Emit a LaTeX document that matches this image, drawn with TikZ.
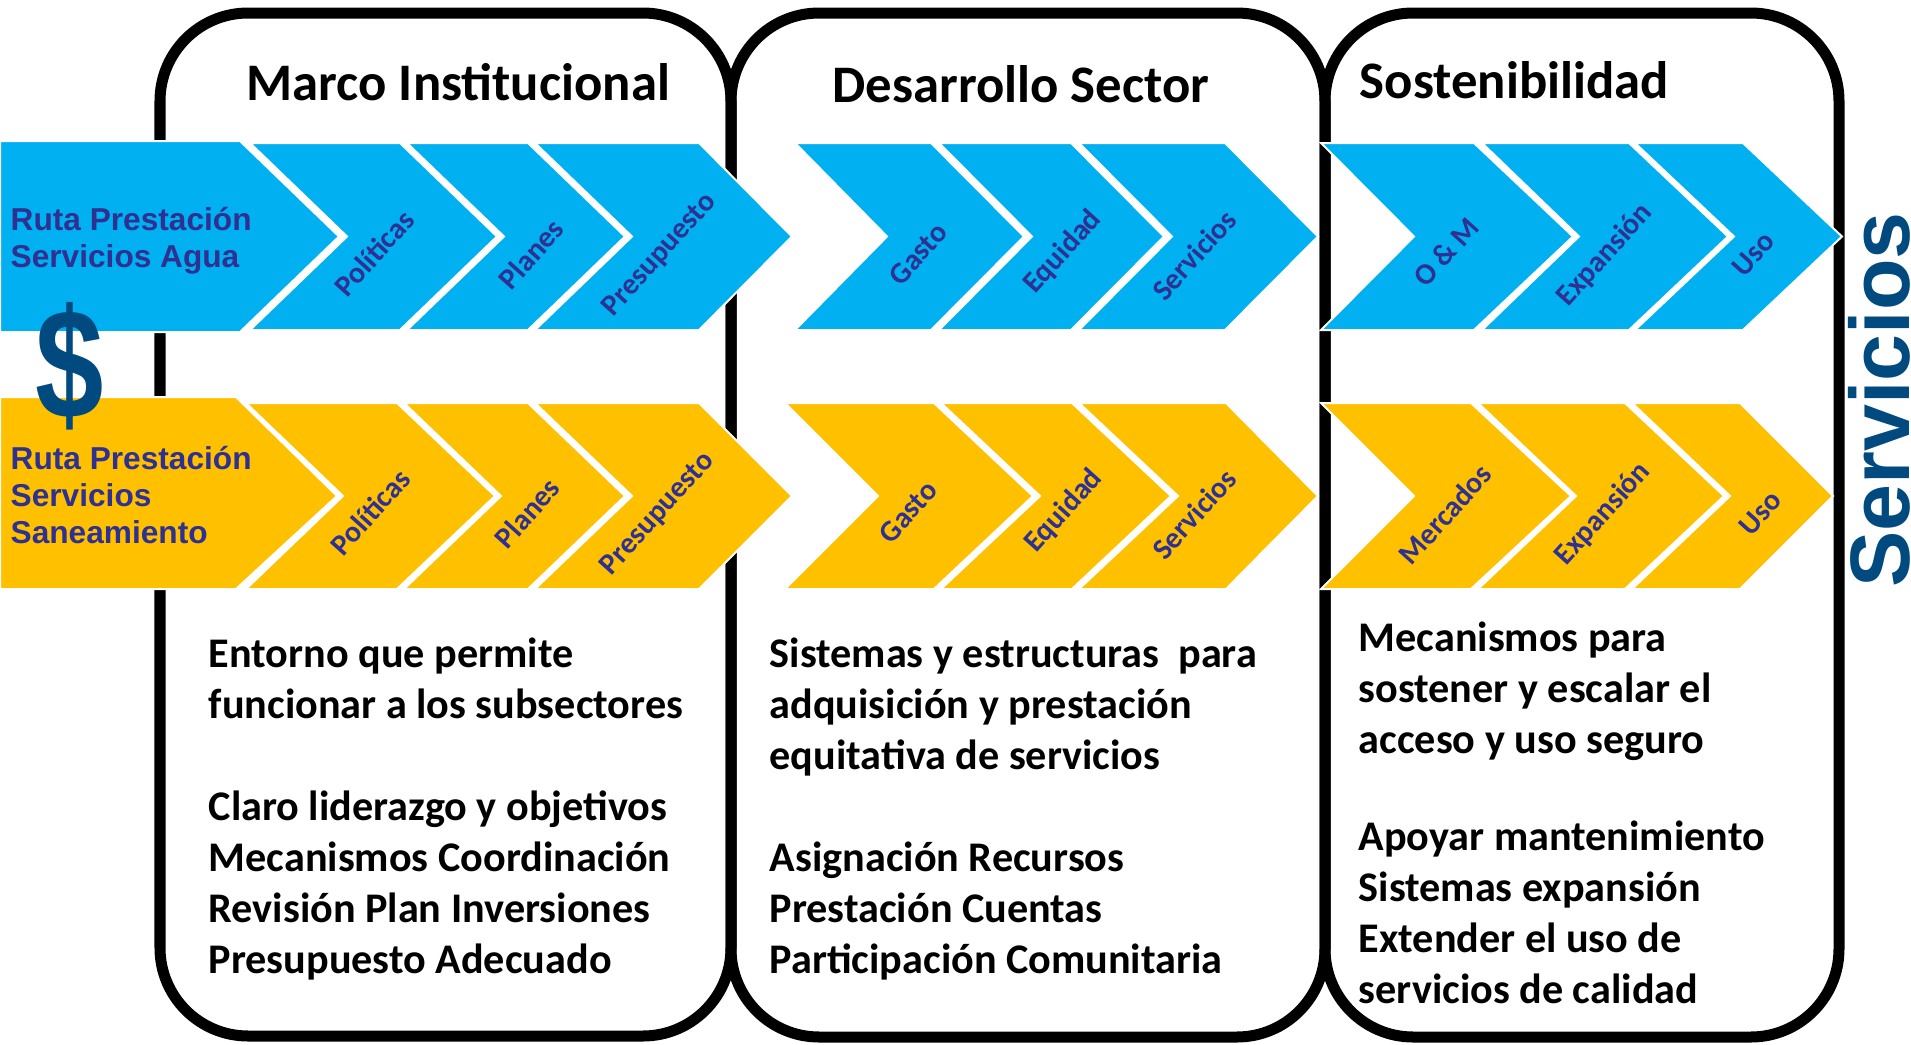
\documentclass[tikz,border=0pt]{standalone}
\usepackage{fontspec}
\setmainfont{Carlito}
\newfontfamily\arialfont{Liberation Sans}
\definecolor{azul}{RGB}{0,176,240}
\definecolor{amarillo}{RGB}{255,192,0}
\definecolor{indigo}{RGB}{46,49,146}
\definecolor{azuloscuro}{RGB}{0,74,128}

\begin{document}
\begin{tikzpicture}%
  [x=0.01cm, y=-0.01cm,
   panel/.style={draw, line width=0.11cm, rounded corners=0.88cm},
   agua/.style={fill=azul, draw=white, line width=0.02cm},
   sanea/.style={fill=amarillo, draw=white, line width=0.02cm},
   etapa/.style={text=indigo, inner sep=0pt, rotate=48,
                 font=\bfseries\fontsize{8.5}{10}\selectfont},
   titulo/.style={anchor=base west, inner sep=0pt,
                  font=\bfseries\fontsize{15}{18}\selectfont},
   cuerpo/.style={anchor=base west, inner sep=0pt, align=left,
                  font=\bfseries\fontsize{12}{14.5}\selectfont},
   ruta/.style={anchor=base west, inner sep=0pt, align=left, text=indigo,
                font=\arialfont\bfseries\fontsize{9}{10.5}\selectfont},
  ]
\useasboundingbox (0,0) rectangle (1911,1045);

% paneles
\draw[panel] (160,13) rectangle (731,1036);
\draw[panel] (731,13) rectangle (1325,1037);
\draw[panel] (1325,13) rectangle (1839,1037);

% ruta agua
\filldraw[agua] (0,141) -- (240,141) -- (339,236.5) -- (240,332) -- (0,332) -- cycle;
\filldraw[agua] (250,143) -- (400,143) -- (497,236.5) -- (400,330) -- (250,330) -- (347,236.5) -- cycle;
\filldraw[agua] (407,143) -- (528,143) -- (625,236.5) -- (528,330) -- (407,330) -- (504,236.5) -- cycle;
\filldraw[agua] (535,143) -- (699,143) -- (792,236.5) -- (699,330) -- (535,330) -- (632,236.5) -- cycle;
\filldraw[agua] (795,143) -- (931,143) -- (1024,236.5) -- (931,330) -- (795,330) -- (887,236.5) -- cycle;
\filldraw[agua] (939,143) -- (1071,143) -- (1164,236.5) -- (1071,330) -- (939,330) -- (1032,236.5) -- cycle;
\filldraw[agua] (1079,143) -- (1225,143) -- (1318,236.5) -- (1225,330) -- (1079,330) -- (1172,236.5) -- cycle;
\filldraw[agua] (1321,143) -- (1474,143) -- (1573,236.5) -- (1474,330) -- (1321,330) -- (1414,236.5) -- cycle;
\filldraw[agua] (1482,143) -- (1629,143) -- (1728,236.5) -- (1629,330) -- (1482,330) -- (1579,236.5) -- cycle;
\filldraw[agua] (1635,143) -- (1743,143) -- (1842,236.5) -- (1743,330) -- (1635,330) -- (1734,236.5) -- cycle;

% ruta saneamiento
\filldraw[sanea] (0,397) -- (236,397) -- (337,496) -- (236,589) -- (0,589) -- cycle;
\filldraw[sanea] (246,403) -- (397,403) -- (495,496) -- (397,589) -- (246,589) -- (343,496) -- cycle;
\filldraw[sanea] (404,403) -- (528,403) -- (625,496) -- (528,589) -- (404,589) -- (501,496) -- cycle;
\filldraw[sanea] (535,403) -- (699,403) -- (792,496) -- (699,589) -- (535,589) -- (632,496) -- cycle;
\filldraw[sanea] (785,403) -- (934,403) -- (1033,496) -- (934,589) -- (785,589) -- (878,496) -- cycle;
\filldraw[sanea] (941,403) -- (1072,403) -- (1171,496) -- (1072,589) -- (941,589) -- (1040,496) -- cycle;
\filldraw[sanea] (1079,403) -- (1226,403) -- (1318,496) -- (1226,589) -- (1079,589) -- (1178,496) -- cycle;
\filldraw[sanea] (1321,403) -- (1471,403) -- (1571,496) -- (1471,589) -- (1321,589) -- (1414,496) -- cycle;
\filldraw[sanea] (1478,403) -- (1625,403) -- (1724,496) -- (1625,589) -- (1478,589) -- (1576,496) -- cycle;
\filldraw[sanea] (1632,403) -- (1740,403) -- (1833,496) -- (1740,589) -- (1632,589) -- (1730,496) -- cycle;

% titulos
\node[titulo] (marco) at (246,100) {Marco Institucional};
\node[titulo] (desarrollo) at (832,102) {Desarrollo Sector};
\node[titulo] (sostenib) at (1359,98) {Sostenibilidad};

% etiquetas de las rutas (base = ultima linea)
\node[ruta] (rutaagua) at (10,267) {Ruta Prestación\\Servicios Agua};
\node[ruta] (rutasanea) at (10,543) {Ruta Prestación\\Servicios\\Saneamiento};
\node[text=azuloscuro, font=\arialfont\bfseries\fontsize{38}{40}\selectfont] (dolar) at (70,366) {\scalebox{0.92}[1.17]{\$}};

% etapas agua
\node[etapa] (a1) at (374,253) {Políticas};
\node[etapa] (a2) at (531,254) {Planes};
\node[etapa] (a3) at (660,255) {Presupuesto};
\node[etapa] (a4) at (918,254) {Gasto};
\node[etapa] (a5) at (1063,252) {Equidad};
\node[etapa] (a6) at (1194,255) {Servicios};
\node[etapa] (a7) at (1446,252) {O \& M};
\node[etapa] (a8) at (1605,255) {Expansión};
\node[etapa] (a9) at (1753,254) {Uso};

% etapas saneamiento
\node[etapa] (s1) at (370,512) {Políticas};
\node[etapa] (s2) at (527,513) {Planes};
\node[etapa] (s3) at (658,514) {Presupuesto};
\node[etapa] (s4) at (908,512) {Gasto};
\node[etapa] (s5) at (1064,511) {Equidad};
\node[etapa] (s6) at (1194,514) {Servicios};
\node[etapa] (s7) at (1445,514) {Mercados};
\node[etapa] (s8) at (1603,514) {Expansión};
\node[etapa] (s9) at (1760,513) {Uso};

% textos (base = ultima linea)
\node[cuerpo] (txtmarco) at (208,973)
  {Entorno que permite\\funcionar a los subsectores\\[14.5pt]
   Claro liderazgo y objetivos\\Mecanismos Coordinación\\
   Revisión Plan Inversiones\\Presupuesto Adecuado};
\node[cuerpo] (txtdesarrollo) at (769,973)
  {Sistemas y estructuras\ \ para\\adquisición y prestación\\equitativa de servicios\\[14.5pt]
   Asignación Recursos\\Prestación Cuentas\\Participación Comunitaria};
\node[cuerpo] (txtsostenib) at (1358,1003)
  {Mecanismos para\\sostener y escalar el\\acceso y uso seguro\\[13pt]
   Apoyar mantenimiento\\Sistemas expansión\\Extender el uso de\\servicios de calidad};

\node[rotate=90, inner sep=0pt, text=azuloscuro,
      font=\arialfont\bfseries\fontsize{24}{28}\selectfont] (servicios) at (1879,400) {Servicios};
\end{tikzpicture}
\end{document}
